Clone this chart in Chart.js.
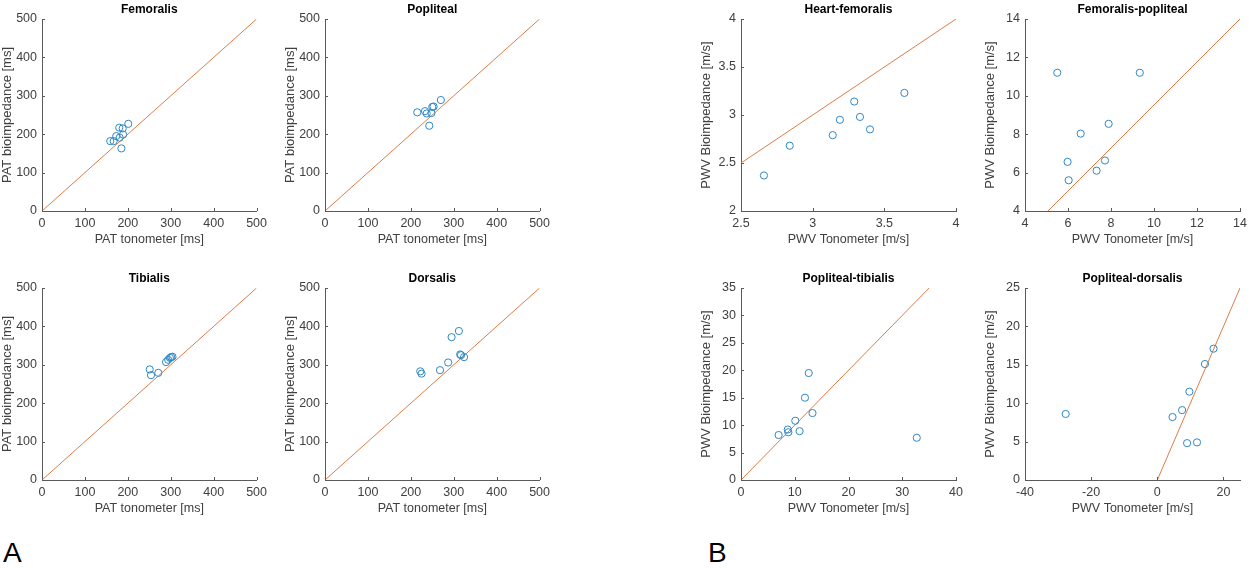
<!DOCTYPE html>
<html><head><meta charset="utf-8">
<script src="https://cdn.jsdelivr.net/npm/chart.js@4.4.1/dist/chart.umd.min.js"></script>
<style>
body{margin:0;background:#fff;width:1256px;height:568px;overflow:hidden;position:relative;font-family:"Liberation Sans",Arial,sans-serif}
canvas{position:absolute}
.lab{position:absolute;font-size:28px;color:#000;line-height:1}
</style></head><body>
<div class="lab" style="left:3px;top:539px">A</div>
<div class="lab" style="left:708px;top:539px">B</div>
<script>
// ---- data ----
const femoralisX = [159,167,173,180,188,181,189,201,185];
const femoralisY = [182,182,195,217,215,191,199,227,163];
const poplitealX = [215,233,237,248,250,253,270,243];
const poplitealY = [257,260,254,255,271,272,289,222];
const tibialisX  = [251,254,271,289,294,298,301,304];
const tibialisY  = [288,273,279,307,313,318,320,321];
const dorsalisX  = [222,225,268,287,295,312,315,317,324];
const dorsalisY  = [283,277,286,306,372,388,327,325,320];
const patLineX = [0,500];
const patLineY = [0,500];

const heartFemX = [2.66,2.84,3.14,3.19,3.29,3.33,3.40,3.64];
const heartFemY = [2.37,2.68,2.79,2.95,3.14,2.98,2.85,3.23];
const heartFemLineX = [2.5,4];
const heartFemLineY = [2.5,4];

const femPopX = [5.50,9.34,7.89,6.59,5.98,6.03,7.33,7.72];
const femPopY = [11.2,11.2,8.54,8.03,6.56,5.60,6.10,6.63];
const femPopLineX = [5.07,14];
const femPopLineY = [4,14];

const popTibX = [7.0,8.7,8.8,10.1,10.9,11.9,12.6,13.3,32.7];
const popTibY = [8.2,9.2,8.7,10.8,8.9,15.0,19.5,12.2,7.7];
const popTibLineX = [0,35];
const popTibLineY = [0,35];

const popDorX = [-27.7,4.6,7.5,9.7,9.0,12.0,14.4,17.0];
const popDorY = [8.6,8.2,9.1,11.5,4.8,4.9,15.1,17.1];
const popDorLineX = [0,25];
const popDorLineY = [0,25];

// tick labels
const patTicks = [0,100,200,300,400,500];
const hfXTicks = [2.5,3,3.5,4];
const hfYTicks = [2,2.5,3,3.5,4];
const fpTicks = [4,6,8,10,12,14];
const ptXTicks = [0,10,20,30,40];
const ptYTicks = [0,5,10,15,20,25,30,35];
const pdXTicks = [-40,-20,0,20];
const pdYTicks = [0,5,10,15,20,25];

const patX = 'PAT tonometer [ms]', patY = 'PAT bioimpedance [ms]';
const pwvX = 'PWV Tonometer [m/s]', pwvY = 'PWV Bioimpedance [m/s]';

// ---- styling / layout ----
const FONT = '"Liberation Sans", Arial, sans-serif';
const BLUE = '#2f87c4';
const ORANGE = '#de7c47';
const AXIS = '#5a5a5a';
const TXT = '#404040';
const colLeft = [-3, 280, 696, 980];
const rowTop = [0, 269];

const panels = [
  {t:'Femoralis', xs:femoralisX, ys:femoralisY, lx:patLineX, ly:patLineY, xr:[0,500], yr:[0,500], xt:patTicks, yt:patTicks, xl:patX, yl:patY, c:0, r:0},
  {t:'Popliteal', xs:poplitealX, ys:poplitealY, lx:patLineX, ly:patLineY, xr:[0,500], yr:[0,500], xt:patTicks, yt:patTicks, xl:patX, yl:patY, c:1, r:0},
  {t:'Tibialis', xs:tibialisX, ys:tibialisY, lx:patLineX, ly:patLineY, xr:[0,500], yr:[0,500], xt:patTicks, yt:patTicks, xl:patX, yl:patY, c:0, r:1},
  {t:'Dorsalis', xs:dorsalisX, ys:dorsalisY, lx:patLineX, ly:patLineY, xr:[0,500], yr:[0,500], xt:patTicks, yt:patTicks, xl:patX, yl:patY, c:1, r:1},
  {t:'Heart-femoralis', xs:heartFemX, ys:heartFemY, lx:heartFemLineX, ly:heartFemLineY, xr:[2.5,4], yr:[2,4], xt:hfXTicks, yt:hfYTicks, xl:pwvX, yl:pwvY, c:2, r:0},
  {t:'Femoralis-popliteal', xs:femPopX, ys:femPopY, lx:femPopLineX, ly:femPopLineY, xr:[4,14], yr:[4,14], xt:fpTicks, yt:fpTicks, xl:pwvX, yl:pwvY, c:3, r:0},
  {t:'Popliteal-tibialis', xs:popTibX, ys:popTibY, lx:popTibLineX, ly:popTibLineY, xr:[0,40], yr:[0,35], xt:ptXTicks, yt:ptYTicks, xl:pwvX, yl:pwvY, c:2, r:1},
  {t:'Popliteal-dorsalis', xs:popDorX, ys:popDorY, lx:popDorLineX, ly:popDorLineY, xr:[-40,25], yr:[0,25], xt:pdXTicks, yt:pdYTicks, xl:pwvX, yl:pwvY, c:3, r:1}
];

const inTicks = {id:'inTicks', afterDraw(chart){
  const {ctx, chartArea:a, scales:{x,y}} = chart;
  ctx.save(); ctx.strokeStyle = AXIS; ctx.lineWidth = 1; ctx.beginPath();
  x.ticks.forEach(t=>{const px = Math.round(x.getPixelForValue(t.value))+0.5; ctx.moveTo(px,a.bottom); ctx.lineTo(px,a.bottom-3);});
  y.ticks.forEach(t=>{const py = Math.round(y.getPixelForValue(t.value))+0.5; ctx.moveTo(a.left,py); ctx.lineTo(a.left+3,py);});
  ctx.stroke(); ctx.restore();
}};

const W = 275, H = 247;
panels.forEach(p=>{
  const c = document.createElement('canvas');
  c.width = W; c.height = H;
  c.style.left = colLeft[p.c]+'px'; c.style.top = rowTop[p.r]+'px';
  c.style.width = W+'px'; c.style.height = H+'px';
  document.body.appendChild(c);
  const tickFont = {family:FONT, size:12.5};
  const fmt = v => String(v);
  new Chart(c, {
    type:'scatter',
    data:{datasets:[
      {data:p.xs.map((x,i)=>({x, y:p.ys[i]})), borderColor:BLUE, backgroundColor:'rgba(0,0,0,0)', pointRadius:3.6, pointHoverRadius:3.6, borderWidth:1},
      {data:p.lx.map((x,i)=>({x, y:p.ly[i]})), showLine:true, borderColor:ORANGE, borderWidth:1, pointRadius:0, pointHoverRadius:0, fill:false}
    ]},
    options:{
      responsive:false, animation:false, devicePixelRatio:1, events:[],
      layout:{padding:{left:0,right:15,top:0,bottom:0}},
      plugins:{
        legend:{display:false}, tooltip:{enabled:false},
        title:{display:true, text:p.t, fullSize:false, color:'#000', font:{family:FONT,size:12,weight:'bold'}, padding:{top:2,bottom:2.6}}
      },
      scales:{
        x:{type:'linear', min:p.xr[0], max:p.xr[1],
          afterBuildTicks:s=>{s.ticks = p.xt.map(v=>({value:v}));},
          afterFit:s=>{s.height = 36;},
          grid:{display:false, drawTicks:false}, border:{display:true, color:AXIS, width:1},
          ticks:{color:TXT, font:tickFont, padding:5, maxRotation:0, autoSkip:false, callback:fmt},
          title:{display:true, text:p.xl, color:TXT, font:tickFont, padding:0}},
        y:{type:'linear', min:p.yr[0], max:p.yr[1],
          afterBuildTicks:s=>{s.ticks = p.yt.map(v=>({value:v}));},
          afterFit:s=>{s.width = 45;},
          grid:{display:false, drawTicks:false}, border:{display:true, color:AXIS, width:1},
          ticks:{color:TXT, font:tickFont, padding:5, autoSkip:false, callback:fmt},
          title:{display:true, text:p.yl, color:TXT, font:{family:FONT, size:13}, padding:{top:2.5,bottom:0}}}
      }
    },
    plugins:[inTicks]
  });
});
</script>
</body></html>
